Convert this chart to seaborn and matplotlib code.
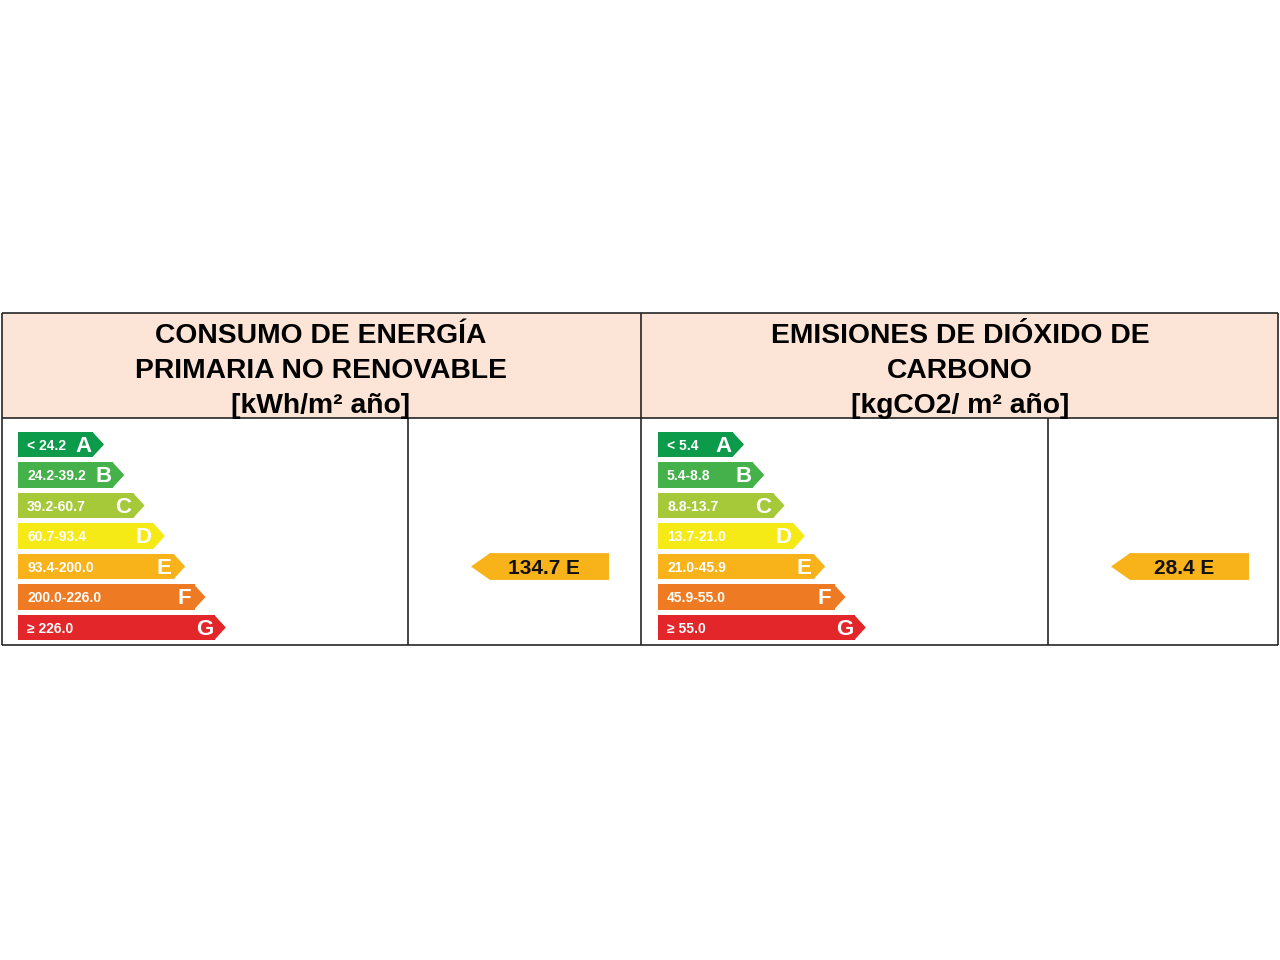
import matplotlib
matplotlib.use("Agg")
import matplotlib.pyplot as plt
import seaborn as sns
import pandas as pd

# ---- data ----
classes = ["A", "B", "C", "D", "E", "F", "G"]
energy_ranges = ["< 24.2", "24.2-39.2", "39.2-60.7", "60.7-93.4",
                 "93.4-200.0", "200.0-226.0", "\u2265 226.0"]
co2_ranges = ["< 5.4", "5.4-8.8", "8.8-13.7", "13.7-21.0",
              "21.0-45.9", "45.9-55.0", "\u2265 55.0"]
energy_value = 134.7
energy_class = "E"
co2_value = 28.4
co2_class = "E"
energy_title = ["CONSUMO DE ENERGÍA", "PRIMARIA NO RENOVABLE", "[kWh/m² año]"]
co2_title = ["EMISIONES DE DIÓXIDO DE", "CARBONO", "[kgCO2/ m² año]"]
class_colors = ["#0c9a4b", "#45b14b", "#a6c93a", "#f5ea16",
                "#f8b31a", "#ee7b23", "#e3262a"]

# ---- style ----
sns.set_theme(style="white")
plt.rcParams["font.family"] = ["Liberation Sans", "DejaVu Sans"]

W, H = 1280, 960
fig = plt.figure(figsize=(12.8, 9.6), dpi=100)


def px_axes(x0, y0, x1, y1, z=1):
    ax = fig.add_axes([x0 / W, 1 - y1 / H, (x1 - x0) / W, (y1 - y0) / H], zorder=z)
    ax.set_axis_off()
    return ax


# background table
bg = px_axes(0, 0, W, H, z=0)
bg.set_xlim(0, W)
bg.set_ylim(H, 0)
LC = "#262626"
LW = 1.2
bg.fill([2, 1278, 1278, 2], [313, 313, 418, 418], color="#fce4d6", lw=0)
for (x0, y0, x1, y1) in [(2, 313, 1278, 313), (2, 418, 1278, 418), (2, 645, 1278, 645),
                         (2, 313, 2, 645), (1278, 313, 1278, 645), (641, 313, 641, 645),
                         (408, 418, 408, 645), (1048, 418, 1048, 645)]:
    bg.plot([x0, x1], [y0, y1], color=LC, lw=LW, solid_capstyle="butt")

for cx, lines in [(321, energy_title), (960, co2_title)]:
    for k, t in enumerate(lines):
        bg.text(cx, 343 + 35 * k, t, ha="center", va="baseline",
                fontsize=20.3, fontweight="bold", color="black")

BAR_W = 0.82
TIP = 11


def draw_scale(x_left, ranges):
    ax = px_axes(x_left, 429.25, x_left + 240, 642.75)
    lengths = [75 + 20.3 * i for i in range(len(classes))]
    df = pd.DataFrame({"cls": classes, "len": lengths})
    sns.barplot(data=df, x="len", y="cls", hue="cls", palette=class_colors,
                orient="h", width=BAR_W, saturation=1, legend=False,
                linewidth=0, ax=ax)
    ax.set_xlim(0, 240)
    ax.set_ylim(6.5, -0.5)
    ax.set_axis_off()
    for i, (L, c) in enumerate(zip(lengths, class_colors)):
        ax.fill([L - 0.5, L + TIP, L - 0.5], [i - BAR_W / 2, i, i + BAR_W / 2],
                color=c, lw=0)
        ax.text(9, i + 0.04, ranges[i], ha="left", va="center", fontsize=10,
                fontweight="bold", color="white")
        ax.text(L - 10, i + 0.05, classes[i], ha="center", va="center",
                fontsize=16, fontweight="bold", color="white")


def draw_indicator(x_left, x_right, value, cls):
    ax = px_axes(x_left, 429.25, x_right, 642.75)
    ax.set_xlim(0, x_right - x_left)
    ax.set_ylim(6.5, -0.5)
    i = classes.index(cls)
    c = class_colors[i]
    h = 0.44
    ax.fill([63, 82, 201, 201, 82], [i, i - h, i - h, i + h, i + h], color=c, lw=0)
    ax.text(136, i + 0.05, f"{value:.1f} {cls}", ha="center", va="center",
            fontsize=15, fontweight="bold", color="#111111")


draw_scale(18, energy_ranges)
draw_scale(658, co2_ranges)
draw_indicator(408, 641, energy_value, energy_class)
draw_indicator(1048, 1278, co2_value, co2_class)

fig.savefig("out.png", dpi=100, facecolor="white")
